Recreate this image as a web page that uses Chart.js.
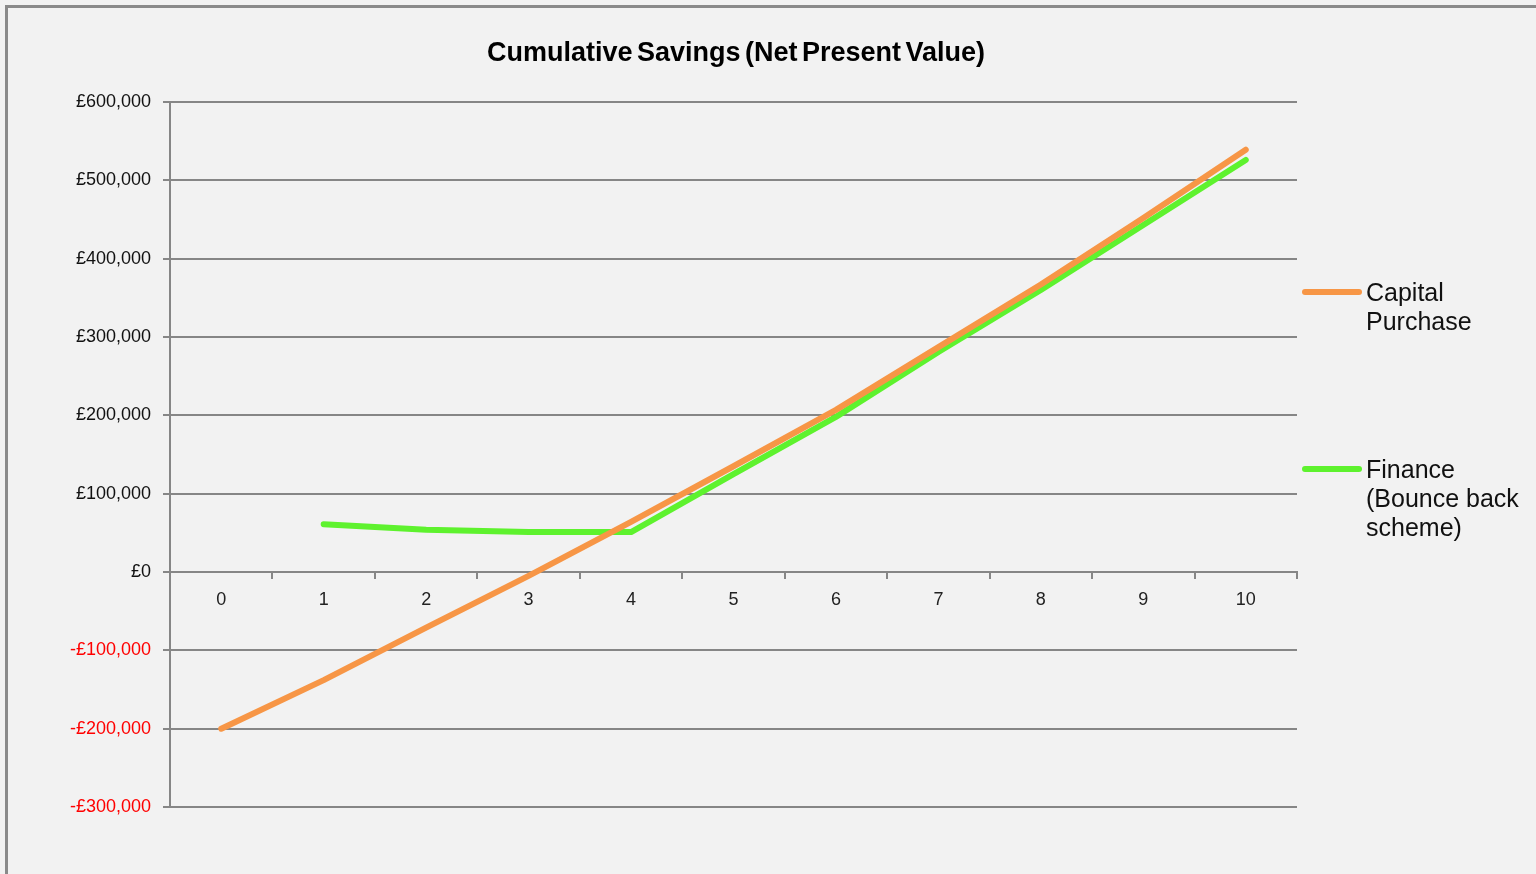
<!DOCTYPE html>
<html>
<head>
<meta charset="utf-8">
<script src="https://cdn.jsdelivr.net/npm/chart.js@4.4.1/dist/chart.umd.min.js"></script>
<style>
  html, body { margin: 0; padding: 0; background: #f2f2f2; overflow: hidden; }
  #wrap { position: relative; width: 1536px; height: 874px; }
  #frame { position: absolute; left: 5px; top: 5px; width: 1600px; height: 900px;
           border-left: 3px solid #8a8a8a; border-top: 3px solid #8a8a8a; box-sizing: border-box; pointer-events: none; }
  #chart { position: absolute; left: 0; top: 0; }
  #title { position: absolute; left: 436px; width: 600px; top: 36px; text-align: center;
           font-family: "Liberation Sans", Arial, sans-serif; font-weight: bold; font-size: 27px;
           line-height: 32px; color: #000; word-spacing: -3px; }
  .leg { position: absolute; left: 1302px; font-family: "Liberation Sans", Arial, sans-serif;
         font-size: 25px; line-height: 29px; color: #111; }
  .leg .sw { position: absolute; left: 0; top: 11px; width: 60px; height: 6px; border-radius: 3px; }
  .leg .tx { margin-left: 64px; }
</style>
</head>
<body>
<div id="wrap">
  <canvas id="chart" width="1536" height="874"></canvas>
  <div id="title"></div>
  <div id="legend"></div>
  <div id="frame"></div>
</div>
<script>
const chartTitle = "Cumulative Savings (Net Present Value)";
// years
const years = ["0", "1", "2", "3", "4", "5", "6", "7", "8", "9", "10"];
// cumulative savings (NPV), £
const capitalPurchase = [-200000, -138000, -71000, -5000, 64000, 135000, 207000, 287000, 367000, 452000, 539000];
const financeBounceBack = [null, 61000, 54000, 51000, 51000, 125000, 198000, 281000, 360000, 443000, 526000];
const seriesNames = [["Capital", "Purchase"], ["Finance", "(Bounce back", "scheme)"]];
const seriesColors = ["#f79646", "#5ef22e"];

const gridGrey = "#868686";
const tickFont = { family: "'Liberation Sans', Arial, sans-serif", size: 18 };

function money(v) {
    let s = "£" + Math.abs(v).toLocaleString("en-GB");
    return v < 0 ? "-" + s : s;
}

document.getElementById("title").textContent = chartTitle;

const ctx = document.getElementById("chart");
const chart = new Chart(ctx, {
    type: "line",
    data: {
        labels: years,
        datasets: [
            {
                label: seriesNames[0].join(" "),
                data: capitalPurchase,
                borderColor: seriesColors[0],
                backgroundColor: seriesColors[0],
                borderWidth: 6,
                borderCapStyle: "round",
                borderJoinStyle: "round",
                pointRadius: 0,
                tension: 0
            },
            {
                label: seriesNames[1].join(" "),
                data: financeBounceBack,
                borderColor: seriesColors[1],
                backgroundColor: seriesColors[1],
                borderWidth: 6,
                borderCapStyle: "round",
                borderJoinStyle: "round",
                pointRadius: 0,
                tension: 0
            }
        ]
    },
    options: {
        responsive: false,
        animation: false,
        layout: { padding: { left: 0, right: 239, top: 102, bottom: 67 } },
        plugins: {
            legend: { display: false },
            tooltip: { enabled: false },
            title: { display: false }
        },
        scales: {
            x: {
                type: "category",
                position: { y: 0 },
                offset: true,
                grid: {
                    offset: true,
                    drawOnChartArea: false,
                    drawTicks: true,
                    tickLength: 6,
                    color: gridGrey,
                    lineWidth: 2
                },
                border: { display: true, color: gridGrey, width: 2 },
                ticks: {
                    color: "#222",
                    padding: 11,
                    maxRotation: 0,
                    font: tickFont
                }
            },
            y: {
                min: -300000,
                max: 600000,
                afterFit: function (scale) { scale.width = 170; },
                grid: {
                    color: gridGrey,
                    lineWidth: 2,
                    tickLength: 7,
                    drawTicks: true
                },
                border: { display: true, color: gridGrey, width: 2 },
                ticks: {
                    stepSize: 100000,
                    padding: 12,
                    font: tickFont,
                    color: function (c) { return c.tick.value < 0 ? "#ff0000" : "#111"; },
                    callback: function (v) { return money(v); }
                }
            }
        }
    }
});

// legend on the right, wrapped like the original
const legendTops = [278, 455];
const legend = document.getElementById("legend");
chart.data.datasets.forEach(function (ds, i) {
    const item = document.createElement("div");
    item.className = "leg";
    item.style.top = legendTops[i] + "px";
    const sw = document.createElement("div");
    sw.className = "sw";
    sw.style.background = ds.borderColor;
    const tx = document.createElement("div");
    tx.className = "tx";
    tx.innerHTML = seriesNames[i].join("<br>");
    item.appendChild(sw);
    item.appendChild(tx);
    legend.appendChild(item);
});
</script>
</body>
</html>
